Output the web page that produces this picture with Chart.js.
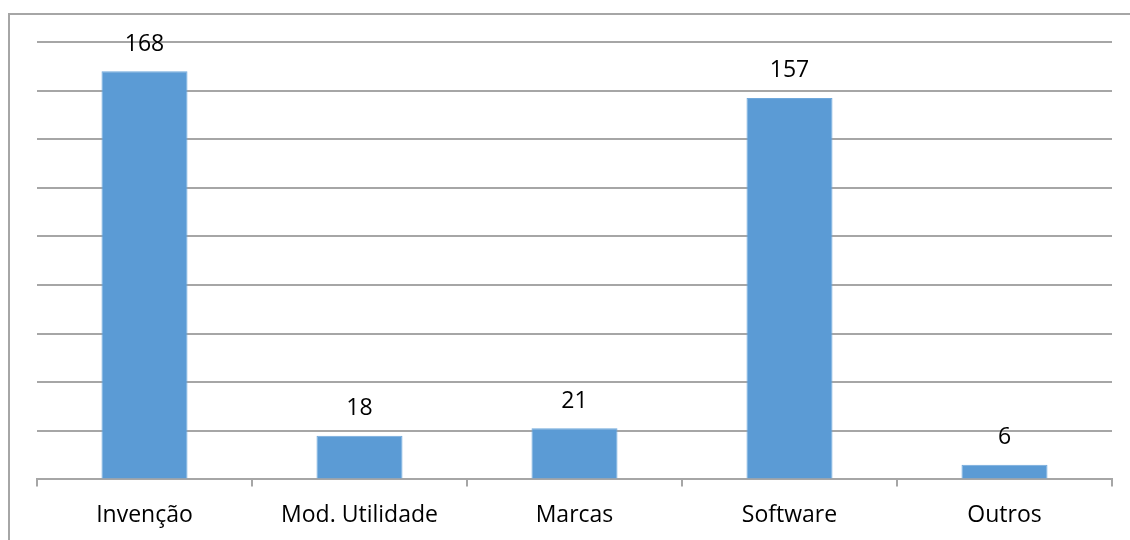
<!DOCTYPE html>
<html lang="pt">
<head>
<meta charset="utf-8">
<title>Registros</title>
<style>
body { margin: 0; background: #fff; }
.wrap { position: relative; width: 1130px; height: 540px; }
.frame {
    position: absolute; left: 8px; top: 13px; right: -10px; bottom: -10px;
    border-left: 2px solid #a6a6a6; border-top: 2px solid #a6a6a6;
}
canvas { position: absolute; left: 0; top: 0; }
</style>
</head>
<body>
<div class="wrap">
    <div class="frame"></div>
    <canvas id="canvas" width="1130" height="540"></canvas>
</div>

<script src="https://cdn.jsdelivr.net/npm/chart.js"></script>
<script>
const categories = ["Invenção", "Mod. Utilidade", "Marcas", "Software", "Outros"];
const values = [168, 18, 21, 157, 6];
const yMax = 180;
const yStep = 20;

const gridGray = "#a6a6a6";
const font = "'Open Sans', sans-serif";

// value labels above each bar
const barLabels = {
    id: "barLabels",
    afterDatasetsDraw(chart) {
        const ctx = chart.ctx;
        const meta = chart.getDatasetMeta(0);
        ctx.save();
        ctx.font = "23px " + font;
        ctx.fillStyle = "#000";
        ctx.textAlign = "center";
        ctx.textBaseline = "middle";
        meta.data.forEach((bar, i) => {
            ctx.fillText(String(values[i]), bar.x, bar.y - 27);
        });
        ctx.restore();
    }
};

const ctx = document.getElementById("canvas").getContext("2d");
new Chart(ctx, {
    type: "bar",
    data: {
        labels: categories,
        datasets: [{
            data: values,
            backgroundColor: "#5b9bd5",
            borderColor: "#6fa8dc",
            borderWidth: 1,
            barPercentage: 0.4,
            categoryPercentage: 1
        }]
    },
    options: {
        responsive: false,
        animation: false,
        layout: { padding: { left: 37, right: 18, top: 42, bottom: -4 } },
        plugins: { legend: { display: false }, tooltip: { enabled: false } },
        scales: {
            x: {
                grid: { drawOnChartArea: false, drawTicks: true, tickLength: 7, color: gridGray, lineWidth: 2 },
                border: { color: gridGray, width: 2 },
                ticks: { color: "#000", font: { family: font, size: 23 }, padding: 15 }
            },
            y: {
                min: 0, max: yMax,
                ticks: { display: false, stepSize: yStep },
                grid: { color: gridGray, lineWidth: 2, drawTicks: false },
                border: { display: false }
            }
        }
    },
    plugins: [barLabels]
});
</script>
</body>
</html>
